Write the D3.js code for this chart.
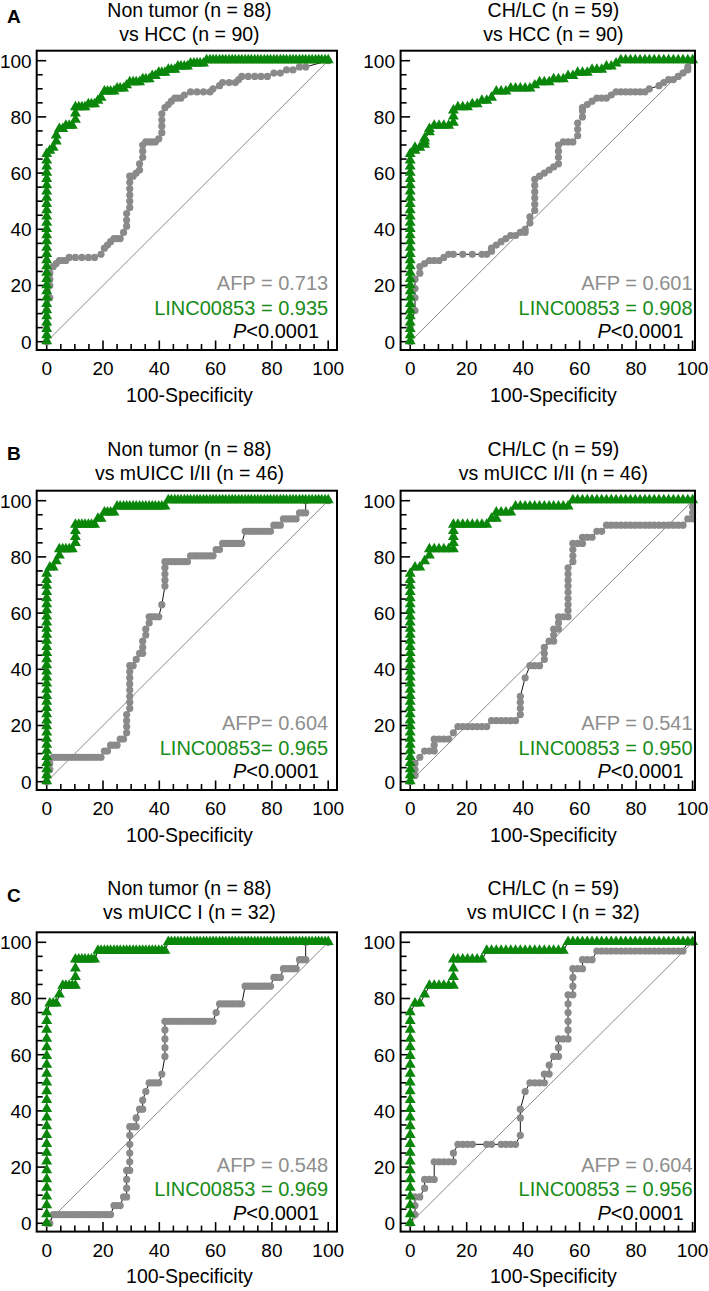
<!DOCTYPE html>
<html><head><meta charset="utf-8">
<script src="https://cdn.jsdelivr.net/npm/d3@7"></script>
<style>body{margin:0;background:#fff}svg{display:block}text{font-family:"Liberation Sans",Arial,Helvetica,sans-serif}</style>
</head><body><svg id="c" width="709" height="1291"></svg>
<script>
// ---------- DATA ----------
const panelLetters = ["A", "B", "C"];
const titleLine1 = [["Non tumor (n = 88)", "CH/LC (n = 59)"], ["Non tumor (n = 88)", "CH/LC (n = 59)"], ["Non tumor (n = 88)", "CH/LC (n = 59)"]];
const titleLine2 = [["vs HCC (n = 90)", "vs HCC (n = 90)"], ["vs mUICC I/II (n = 46)", "vs mUICC I/II (n = 46)"], ["vs mUICC I (n = 32)", "vs mUICC I (n = 32)"]];
const afpLabels = [["AFP = 0.713", "AFP = 0.601"], ["AFP= 0.604", "AFP = 0.541"], ["AFP = 0.548", "AFP = 0.604"]];
const lincLabels = [["LINC00853 = 0.935", "LINC00853 = 0.908"], ["LINC00853= 0.965", "LINC00853 = 0.950"], ["LINC00853 = 0.969", "LINC00853 = 0.956"]];
const pLabel = "<0.0001";
const xTickLabels = [0, 20, 40, 60, 80, 100];
const yTickLabels = [0, 20, 40, 60, 80, 100];
const xAxisTitle = "100-Specificity";

// ROC points [100-Specificity, Sensitivity]
const lincA1 = [[0,0],[0,2.2],[0,4.4],[0,6.7],[0,8.9],[0,11.1],[0,13.3],[0,15.6],[0,17.8],[0,20],[0,22.2],[0,24.4],[0,26.7],[0,28.9],[0,31.1],[0,33.3],[0,35.6],[0,37.8],[0,40],[0,42.2],[0,44.4],[0,46.7],[0,48.9],[0,51.1],[0,53.3],[0,55.6],[0,57.8],[0,60],[0,62.2],[0,64.4],[0,66.7],
[1.1,67.8],[2.3,68.9],[3.4,71.1],[3.4,73.3],[4.5,75.6],[5.7,75.6],[6.8,76.7],[8,76.7],[9.1,76.7],[10.2,78.9],[10.2,81.1],[10.2,83.3],[11.4,83.3],[12.5,83.3],[13.6,83.3],[14.8,84.4],[15.9,84.4],[17,84.4],[18.2,85.6],[19.3,86.7],[20.5,88.9],[21.6,88.9],[22.7,88.9],[23.9,88.9],[25,90],[26.1,90],[27.3,90],[28.4,91.1],[29.5,92.2],[30.7,92.2],[31.8,92.2],[33,92.2],[34.1,93.3],[35.2,93.3],[36.4,93.3],[37.5,94.4],[38.6,94.4],[39.8,95.6],[40.9,95.6],[42,95.6],[43.2,96.7],[44.3,96.7],[45.5,96.7],[46.6,97.8],[47.7,97.8],[48.9,97.8],[50,97.8],[51.1,98.9],[52.3,98.9],[53.4,98.9],[54.5,98.9],[55.7,98.9],
[56.8,100],[58,100],[59.1,100],[60.2,100],[61.4,100],[62.5,100],[63.6,100],[64.8,100],[65.9,100],[67,100],[68.2,100],[69.3,100],[70.5,100],[71.6,100],[72.7,100],[73.9,100],[75,100],[76.1,100],[77.3,100],[78.4,100],[79.5,100],[80.7,100],[81.8,100],[83,100],[84.1,100],[85.2,100],[86.4,100],[87.5,100],[88.6,100],[89.8,100],[90.9,100],[92,100],[93.2,100],[94.3,100],[95.5,100],[96.6,100],[97.7,100],[98.9,100],[100,100]];
const afpA1 = [[0,0],[0,5.6],[0,11.1],[1.1,15.6],[1.1,20],[1.1,22.2],[1.1,24.4],[2.3,26.7],[3.4,27.8],[4.5,28.9],[5.7,28.9],[6.8,28.9],[8,30],[10.2,30],[12.5,30],[14.8,30],[17,30],[19.3,31.1],[20.5,33.3],[21.6,34.4],[22.7,35.6],[23.9,36.7],[25,36.7],[26.1,36.7],[27.3,38.9],[28.4,41.1],[28.4,43.3],[28.4,45.6],[29.5,47.8],[29.5,50],[29.5,52.2],[29.5,54.4],[29.5,56.7],[29.5,58.9],[30.7,58.9],[31.8,60],[33,61.1],[33,63.3],[34.1,65.6],[34.1,67.8],[34.1,70],[35.2,71.1],[36.4,71.1],[37.5,71.1],[38.6,71.1],[39.8,72.2],[40.9,74.4],[40.9,76.7],[40.9,78.9],[40.9,81.1],[42,83.3],[43.2,84.4],[44.3,85.6],[45.5,86.7],[46.6,86.7],[47.7,86.7],[48.9,87.8],[51.1,88.9],[53.4,88.9],[55.7,88.9],[58,88.9],[59.1,90],[61.4,91.1],[62.5,92.2],[64.8,92.2],[67,92.2],[68.2,93.3],[69.3,94.4],[71.6,94.4],[73.9,94.4],[76.1,94.4],[78.4,94.4],[80.7,95.6],[83,95.6],[85.2,96.7],[87.5,96.7],[89.8,97.8],[92,97.8],[100,100]];

const lincA2 = [[0,0],[0,2.2],[0,4.4],[0,6.7],[0,8.9],[0,11.1],[0,13.3],[0,15.6],[0,17.8],[0,20],[0,22.2],[0,24.4],[0,26.7],[0,28.9],[0,31.1],[0,33.3],[0,35.6],[0,37.8],[0,40],[0,42.2],[0,44.4],[0,46.7],[0,48.9],[0,51.1],[0,53.3],[0,55.6],[0,57.8],[0,60],[0,62.2],[0,64.4],[0,66.7],
[1.7,67.8],[1.7,68.9],[3.4,68.9],[5.1,70],[5.1,71.1],[5.1,72.2],[6.8,74.4],[6.8,75.6],[8.5,76.7],[10.2,76.7],[11.9,76.7],[13.6,76.7],[15.3,77.8],[15.3,80],[15.3,82.2],[16.9,83.3],[18.6,83.3],[20.3,83.3],[22,84.4],[23.7,84.4],[25.4,85.6],[27.1,85.6],[28.8,86.7],[30.5,88.9],[32.2,88.9],[33.9,88.9],[35.6,90],[37.3,90],[39,90],[40.7,90],[42.4,90],[44.1,91.1],[45.8,92.2],[47.5,92.2],[49.2,92.2],[50.8,93.3],[52.5,93.3],[54.2,93.3],[55.9,94.4],[57.6,94.4],[59.3,95.6],[61,95.6],[62.7,95.6],[64.4,96.7],[66.1,96.7],[67.8,96.7],[69.5,97.8],[71.2,97.8],[72.9,98.9],
[74.6,100],[76.3,100],[78,100],[79.7,100],[81.4,100],[83.1,100],[84.7,100],[86.4,100],[88.1,100],[89.8,100],[91.5,100],[93.2,100],[94.9,100],[96.6,100],[98.3,100],[100,100]];
const afpA2 = [[0,0],[0,5.6],[1.7,11.1],[1.7,15.6],[1.7,18.9],[1.7,22.2],[3.4,24.4],[3.4,26.7],[5.1,27.8],[6.8,28.9],[8.5,28.9],[10.2,28.9],[11.9,30],[13.6,31.1],[15.3,31.1],[18.6,31.1],[22,31.1],[25.4,31.1],[27.1,31.1],[28.8,32.2],[28.8,33.3],[30.5,34.4],[32.2,35.6],[33.9,36.7],[35.6,37.8],[37.3,37.8],[39,38.9],[40.7,38.9],[40.7,40],[42.4,42.2],[42.4,44.4],[44.1,46.7],[44.1,48.9],[44.1,51.1],[44.1,53.3],[44.1,55.6],[44.1,57.8],[45.8,58.9],[47.5,60],[49.2,61.1],[50.8,62.2],[52.5,63.3],[52.5,65.6],[52.5,67.8],[52.5,70],[54.2,71.1],[55.9,71.1],[57.6,71.1],[59.3,73.3],[59.3,75.6],[59.3,77.8],[61,80],[61,82.2],[61,83.3],[62.7,84.4],[64.4,85.6],[66.1,86.7],[67.8,86.7],[69.5,86.7],[71.2,87.8],[72.9,88.9],[74.6,88.9],[76.3,88.9],[78,88.9],[79.7,88.9],[81.4,88.9],[83.1,88.9],[84.7,90],[88.1,91.1],[89.8,92.2],[91.5,93.3],[93.2,93.3],[94.9,94.4],[96.6,95.6],[98.3,96.7],[98.3,97.8],[100,100]];

const lincB1 = [[0,0],[0,2.2],[0,4.3],[0,6.5],[0,8.7],[0,10.9],[0,13],[0,15.2],[0,17.4],[0,19.6],[0,21.7],[0,23.9],[0,26.1],[0,28.3],[0,30.4],[0,32.6],[0,34.8],[0,37],[0,39.1],[0,41.3],[0,43.5],[0,45.7],[0,47.8],[0,50],[0,52.2],[0,54.3],[0,56.5],[0,58.7],[0,60.9],[0,63],[0,65.2],[0,67.4],[0,69.6],[0,71.7],[0,73.9],
[1.1,76.1],[2.3,76.1],[3.4,78.3],[4.5,80.4],[4.5,82.6],[5.7,82.6],[6.8,82.6],[8,82.6],[9.1,82.6],[10.2,84.8],[10.2,87],[10.2,89.1],[10.2,91.3],[11.4,91.3],[12.5,91.3],[13.6,91.3],[14.8,91.3],[15.9,91.3],[17,91.3],[18.2,93.5],[19.3,93.5],[20.5,95.7],[21.6,95.7],[22.7,95.7],[23.9,95.7],[25,97.8],[26.1,97.8],[27.3,97.8],[28.4,97.8],[29.5,97.8],[30.7,97.8],[31.8,97.8],[33,97.8],[34.1,97.8],[35.2,97.8],[36.4,97.8],[37.5,97.8],[38.6,97.8],[39.8,97.8],[40.9,97.8],[42,97.8],
[43.2,100],[44.3,100],[45.5,100],[46.6,100],[47.7,100],[48.9,100],[50,100],[51.1,100],[52.3,100],[53.4,100],[54.5,100],[55.7,100],[56.8,100],[58,100],[59.1,100],[60.2,100],[61.4,100],[62.5,100],[63.6,100],[64.8,100],[65.9,100],[67,100],[68.2,100],[69.3,100],[70.5,100],[71.6,100],[72.7,100],[73.9,100],[75,100],[76.1,100],[77.3,100],[78.4,100],[79.5,100],[80.7,100],[81.8,100],[83,100],[84.1,100],[85.2,100],[86.4,100],[87.5,100],[88.6,100],[89.8,100],[90.9,100],[92,100],[93.2,100],[94.3,100],[95.5,100],[96.6,100],[97.7,100],[98.9,100],[100,100]];
const afpB1 = [[0,0],[0,2.2],[1.1,4.3],[1.1,6.5],[2.3,8.7],[3.4,8.7],[4.5,8.7],[5.7,8.7],[6.8,8.7],[8,8.7],[9.1,8.7],[10.2,8.7],[11.4,8.7],[12.5,8.7],[13.6,8.7],[14.8,8.7],[15.9,8.7],[17,8.7],[18.2,8.7],[19.3,8.7],[20.5,10.9],[21.6,10.9],[22.7,13],[23.9,13],[25,13],[26.1,15.2],[27.3,15.2],[28.4,17.4],[28.4,19.6],[28.4,21.7],[28.4,23.9],[29.5,26.1],[29.5,28.3],[29.5,30.4],[29.5,32.6],[29.5,34.8],[29.5,37],[29.5,39.1],[29.5,41.3],[30.7,41.3],[31.8,43.5],[33,45.7],[34.1,45.7],[34.1,47.8],[34.1,50],[35.2,52.2],[35.2,54.3],[36.4,56.5],[36.4,58.7],[37.5,58.7],[38.6,58.7],[39.8,58.7],[40.9,63],[42,69.6],[42,71.7],[42,73.9],[42,76.1],[42,78.3],[43.2,78.3],[44.3,78.3],[45.5,78.3],[46.6,78.3],[47.7,78.3],[48.9,78.3],[50,78.3],[51.1,80.4],[52.3,80.4],[53.4,80.4],[54.5,80.4],[55.7,80.4],[56.8,80.4],[58,80.4],[59.1,80.4],[60.2,82.6],[61.4,82.6],[62.5,84.8],[63.6,84.8],[64.8,84.8],[65.9,84.8],[67,84.8],[68.2,84.8],[69.3,84.8],[70.5,89.1],[71.6,89.1],[72.7,89.1],[73.9,89.1],[75,89.1],[76.1,89.1],[77.3,89.1],[78.4,89.1],[79.5,89.1],[80.7,91.3],[81.8,91.3],[83,91.3],[84.1,93.5],[85.2,93.5],[86.4,93.5],[87.5,93.5],[88.6,93.5],[89.8,95.7],[90.9,95.7],[92,95.7],[92,100],[100,100]];

const lincB2 = [[0,0],[0,2.2],[0,4.3],[0,6.5],[0,8.7],[0,10.9],[0,13],[0,15.2],[0,17.4],[0,19.6],[0,21.7],[0,23.9],[0,26.1],[0,28.3],[0,30.4],[0,32.6],[0,34.8],[0,37],[0,39.1],[0,41.3],[0,43.5],[0,45.7],[0,47.8],[0,50],[0,52.2],[0,54.3],[0,56.5],[0,58.7],[0,60.9],[0,63],[0,65.2],[0,67.4],[0,69.6],[0,71.7],[0,73.9],
[1.7,76.1],[3.4,76.1],[5.1,78.3],[6.8,80.4],[6.8,82.6],[8.5,82.6],[10.2,82.6],[11.9,82.6],[13.6,82.6],[15.3,82.6],[15.3,84.8],[15.3,87],[15.3,89.1],[15.3,91.3],[16.9,91.3],[18.6,91.3],[20.3,91.3],[22,91.3],[23.7,91.3],[25.4,91.3],[27.1,91.3],[28.8,93.5],[30.5,93.5],[30.5,95.7],[32.2,95.7],[33.9,95.7],[35.6,95.7],[37.3,97.8],[39,97.8],[40.7,97.8],[42.4,97.8],[44.1,97.8],[45.8,97.8],[47.5,97.8],[49.2,97.8],[50.8,97.8],[52.5,97.8],[54.2,97.8],[55.9,97.8],
[57.6,100],[59.3,100],[61,100],[62.7,100],[64.4,100],[66.1,100],[67.8,100],[69.5,100],[71.2,100],[72.9,100],[74.6,100],[76.3,100],[78,100],[79.7,100],[81.4,100],[83.1,100],[84.7,100],[86.4,100],[88.1,100],[89.8,100],[91.5,100],[93.2,100],[94.9,100],[96.6,100],[98.3,100],[100,100]];
const afpB2 = [[0,0],[1.7,2.2],[1.7,4.3],[1.7,6.5],[3.4,8.7],[5.1,10.9],[6.8,10.9],[8.5,10.9],[8.5,13],[8.5,15.2],[10.2,15.2],[11.9,15.2],[13.6,15.2],[15.3,17.4],[16.9,19.6],[18.6,19.6],[20.3,19.6],[22,19.6],[23.7,19.6],[25.4,19.6],[27.1,19.6],[28.8,21.7],[30.5,21.7],[32.2,21.7],[33.9,21.7],[35.6,21.7],[37.3,21.7],[39,23.9],[39,26.1],[39,28.3],[39,30.4],[40.7,37],[42.4,41.3],[44.1,41.3],[45.8,41.3],[47.5,43.5],[47.5,45.7],[47.5,47.8],[49.2,50],[50.8,50],[50.8,52.2],[50.8,54.3],[52.5,54.3],[52.5,56.5],[52.5,58.7],[54.2,58.7],[55.9,58.7],[55.9,60.9],[55.9,63],[55.9,65.2],[55.9,67.4],[55.9,69.6],[55.9,71.7],[55.9,73.9],[55.9,76.1],[57.6,78.3],[57.6,80.4],[57.6,82.6],[57.6,84.8],[59.3,84.8],[61,84.8],[61,87],[62.7,87],[64.4,87],[66.1,89.1],[67.8,89.1],[69.5,91.3],[71.2,91.3],[72.9,91.3],[74.6,91.3],[76.3,91.3],[78,91.3],[79.7,91.3],[81.4,91.3],[83.1,91.3],[84.7,91.3],[86.4,91.3],[88.1,91.3],[89.8,91.3],[91.5,91.3],[93.2,91.3],[94.9,91.3],[96.6,91.3],[98.3,93.5],[100,93.5],[100,95.7],[100,97.8],[100,100]];

const lincC1 = [[0,0],[0,3.1],[0,6.3],[0,9.4],[0,12.5],[0,15.6],[0,18.8],[0,21.9],[0,25],[0,28.1],[0,31.3],[0,34.4],[0,37.5],[0,40.6],[0,43.8],[0,46.9],[0,50],[0,53.1],[0,56.3],[0,59.4],[0,62.5],[0,65.6],[0,68.8],[0,71.9],[0,75],
[1.1,78.1],[2.3,78.1],[3.4,78.1],[4.5,81.3],[5.7,84.4],[6.8,84.4],[8,84.4],[9.1,84.4],[10.2,84.4],[10.2,87.5],[10.2,90.6],[10.2,93.8],[11.4,93.8],[12.5,93.8],[13.6,93.8],[14.8,93.8],[15.9,93.8],[17,93.8],[18.2,96.9],[19.3,96.9],[20.5,96.9],[21.6,96.9],[22.7,96.9],[23.9,96.9],[25,96.9],[26.1,96.9],[27.3,96.9],[28.4,96.9],[29.5,96.9],[30.7,96.9],[31.8,96.9],[33,96.9],[34.1,96.9],[35.2,96.9],[36.4,96.9],[37.5,96.9],[38.6,96.9],[39.8,96.9],[40.9,96.9],[42,96.9],
[43.2,100],[44.3,100],[45.5,100],[46.6,100],[47.7,100],[48.9,100],[50,100],[51.1,100],[52.3,100],[53.4,100],[54.5,100],[55.7,100],[56.8,100],[58,100],[59.1,100],[60.2,100],[61.4,100],[62.5,100],[63.6,100],[64.8,100],[65.9,100],[67,100],[68.2,100],[69.3,100],[70.5,100],[71.6,100],[72.7,100],[73.9,100],[75,100],[76.1,100],[77.3,100],[78.4,100],[79.5,100],[80.7,100],[81.8,100],[83,100],[84.1,100],[85.2,100],[86.4,100],[87.5,100],[88.6,100],[89.8,100],[90.9,100],[92,100],[93.2,100],[94.3,100],[95.5,100],[96.6,100],[97.7,100],[98.9,100],[100,100]];
const afpC1 = [[0,0],[1.1,0],[2.3,3.1],[3.4,3.1],[4.5,3.1],[5.7,3.1],[6.8,3.1],[8,3.1],[9.1,3.1],[10.2,3.1],[11.4,3.1],[12.5,3.1],[13.6,3.1],[14.8,3.1],[15.9,3.1],[17,3.1],[18.2,3.1],[19.3,3.1],[20.5,3.1],[21.6,3.1],[22.7,3.1],[23.9,6.3],[25,6.3],[26.1,6.3],[27.3,9.4],[28.4,9.4],[28.4,12.5],[28.4,15.6],[28.4,18.8],[29.5,18.8],[29.5,21.9],[29.5,25],[29.5,28.1],[29.5,31.3],[29.5,34.4],[30.7,34.4],[31.8,34.4],[31.8,37.5],[33,40.6],[34.1,40.6],[34.1,43.8],[35.2,46.9],[36.4,50],[37.5,50],[38.6,50],[39.8,50],[40.9,53.1],[42,59.4],[42,62.5],[42,65.6],[42,68.8],[42,71.9],[43.2,71.9],[44.3,71.9],[45.5,71.9],[46.6,71.9],[47.7,71.9],[48.9,71.9],[50,71.9],[51.1,71.9],[52.3,71.9],[53.4,71.9],[54.5,71.9],[55.7,71.9],[56.8,71.9],[58,71.9],[59.1,71.9],[60.2,75],[61.4,78.1],[62.5,78.1],[63.6,78.1],[64.8,78.1],[65.9,78.1],[67,78.1],[68.2,78.1],[69.3,78.1],[70.5,84.4],[71.6,84.4],[72.7,84.4],[73.9,84.4],[75,84.4],[76.1,84.4],[77.3,84.4],[78.4,84.4],[79.5,84.4],[80.7,87.5],[81.8,87.5],[83,87.5],[84.1,90.6],[85.2,90.6],[86.4,90.6],[87.5,90.6],[88.6,90.6],[89.8,93.8],[90.9,93.8],[92,93.8],[92,100],[100,100]];

const lincC2 = [[0,0],[0,3.1],[0,6.3],[0,9.4],[0,12.5],[0,15.6],[0,18.8],[0,21.9],[0,25],[0,28.1],[0,31.3],[0,34.4],[0,37.5],[0,40.6],[0,43.8],[0,46.9],[0,50],[0,53.1],[0,56.3],[0,59.4],[0,62.5],[0,65.6],[0,68.8],[0,71.9],[0,75],
[1.7,78.1],[3.4,78.1],[5.1,81.3],[6.8,84.4],[8.5,84.4],[10.2,84.4],[11.9,84.4],[13.6,84.4],[15.3,84.4],[15.3,87.5],[15.3,90.6],[15.3,93.8],[16.9,93.8],[18.6,93.8],[20.3,93.8],[22,93.8],[23.7,93.8],[25.4,93.8],[27.1,96.9],[28.8,96.9],[30.5,96.9],[32.2,96.9],[33.9,96.9],[35.6,96.9],[37.3,96.9],[39,96.9],[40.7,96.9],[42.4,96.9],[44.1,96.9],[45.8,96.9],[47.5,96.9],[49.2,96.9],[50.8,96.9],[52.5,96.9],[54.2,96.9],
[55.9,100],[57.6,100],[59.3,100],[61,100],[62.7,100],[64.4,100],[66.1,100],[67.8,100],[69.5,100],[71.2,100],[72.9,100],[74.6,100],[76.3,100],[78,100],[79.7,100],[81.4,100],[83.1,100],[84.7,100],[86.4,100],[88.1,100],[89.8,100],[91.5,100],[93.2,100],[94.9,100],[96.6,100],[98.3,100],[100,100]];
const afpC2 = [[0,0],[1.7,3.1],[1.7,6.3],[1.7,9.4],[3.4,9.4],[5.1,12.5],[5.1,15.6],[6.8,15.6],[8.5,15.6],[8.5,21.9],[10.2,21.9],[11.9,21.9],[13.6,21.9],[15.3,21.9],[15.3,25],[16.9,28.1],[18.6,28.1],[20.3,28.1],[22,28.1],[27.1,28.1],[28.8,28.1],[32.2,28.1],[33.9,28.1],[35.6,28.1],[37.3,28.1],[39,31.3],[39,37.5],[39,40.6],[40.7,46.9],[42.4,50],[44.1,50],[45.8,50],[47.5,50],[47.5,53.1],[49.2,53.1],[49.2,56.3],[50.8,59.4],[52.5,59.4],[52.5,62.5],[52.5,65.6],[54.2,65.6],[55.9,65.6],[55.9,68.8],[55.9,71.9],[55.9,75],[55.9,78.1],[55.9,81.3],[57.6,81.3],[57.6,84.4],[57.6,87.5],[57.6,90.6],[59.3,90.6],[61,90.6],[61,93.8],[62.7,93.8],[64.4,93.8],[66.1,96.9],[67.8,96.9],[69.5,96.9],[71.2,96.9],[72.9,96.9],[74.6,96.9],[76.3,96.9],[78,96.9],[79.7,96.9],[81.4,96.9],[83.1,96.9],[84.7,96.9],[86.4,96.9],[88.1,96.9],[89.8,96.9],[91.5,96.9],[93.2,96.9],[94.9,96.9],[96.6,96.9],[98.3,100],[100,100]];

const afpSeries = [[afpA1, afpA2], [afpB1, afpB2], [afpC1, afpC2]];
const lincSeries = [[lincA1, lincA2], [lincB1, lincB2], [lincC1, lincC2]];

// ---------- LAYOUT ----------
const GREEN = "#0a870a", GREEN_TXT = "#178c17", GREY = "#8a8a8a", GREY_TXT = "#8e8e8e";
const cols = [{x0: 46.7, x1: 328.2, fl: 36.7, fr: 337, ylabX: 31.6},
              {x0: 410.2, x1: 692.6, fl: 400.6, fr: 695, ylabX: 395}];
const rows = [{y0: 341.7, y1: 60.7, t1: -34, t2: -10, lb: 23},
              {y0: 781.7, y1: 500.7, t1: -34.5, t2: -10.5, lb: 460},
              {y0: 1223.3, y1: 942.3, t1: -37.3, t2: -13.5, lb: 902}];

const svg = d3.select("#c");
svg.append("rect").attr("width", 709).attr("height", 1291).attr("fill", "#fff");

const minor = d3.range(0, 101, 5);

rows.forEach((R, ri) => {
  svg.append("text").attr("x", 7).attr("y", R.lb).attr("font-size", 19).attr("font-weight", "bold").text(panelLetters[ri]);
  cols.forEach((C, ci) => {
    const x = d3.scaleLinear().domain([0, 100]).range([C.x0, C.x1]);
    const y = d3.scaleLinear().domain([0, 100]).range([R.y0, R.y1]);
    const g = svg.append("g");
    const ft = R.y1 - 10, fb = R.y0 + 8.3;
    const cx = (C.x0 + C.x1) / 2 + 2;

    g.append("text").attr("x", cx).attr("y", R.y1 - 10 + R.t1).attr("text-anchor", "middle").attr("font-size", 19.5).text(titleLine1[ri][ci]);
    g.append("text").attr("x", cx).attr("y", R.y1 - 10 + R.t2).attr("text-anchor", "middle").attr("font-size", 19.5).text(titleLine2[ri][ci]);

    g.append("line").attr("x1", x(0)).attr("y1", y(0)).attr("x2", x(100)).attr("y2", y(100))
      .attr("stroke", "#7a7a7a").attr("stroke-width", 0.9);

    minor.forEach(v => {
      const L = (v % 20 === 0) ? 9.5 : 6;
      g.append("line").attr("x1", x(v)).attr("x2", x(v)).attr("y1", fb).attr("y2", fb - L).attr("stroke", "#000").attr("stroke-width", 1.6);
      g.append("line").attr("y1", y(v)).attr("y2", y(v)).attr("x1", C.fl).attr("x2", C.fl + L).attr("stroke", "#000").attr("stroke-width", 1.6);
    });
    xTickLabels.forEach(v => {
      g.append("text").attr("x", x(v)).attr("y", fb + 25).attr("text-anchor", "middle").attr("font-size", 19).text(v);
    });
    yTickLabels.forEach(v => {
      g.append("text").attr("x", C.ylabX).attr("y", y(v) + 6.8).attr("text-anchor", "end").attr("font-size", 19).text(v);
    });
    g.append("text").attr("x", cx).attr("y", fb + 51.5).attr("text-anchor", "middle").attr("font-size", 19.5).text(xAxisTitle);

    const line = d3.line().x(d => x(d[0])).y(d => y(d[1]));
    const afp = afpSeries[ri][ci];
    g.append("path").attr("d", line(afp)).attr("fill", "none").attr("stroke", "#111").attr("stroke-width", 1);
    g.selectAll(null).data(afp).enter().append("circle")
      .attr("cx", d => x(d[0])).attr("cy", d => y(d[1])).attr("r", 3.6).attr("fill", GREY);
    const linc = lincSeries[ri][ci];
    g.append("path").attr("d", line(linc)).attr("fill", "none").attr("stroke", "#111").attr("stroke-width", 1);
    const tri = d3.symbol().type(d3.symbolTriangle).size(52);
    g.selectAll(null).data(linc).enter().append("path")
      .attr("d", tri).attr("transform", d => `translate(${x(d[0])},${y(d[1]) - 0.5})`).attr("fill", GREEN);

    g.append("rect").attr("x", C.fl).attr("y", ft).attr("width", C.fr - C.fl).attr("height", fb - ft)
      .attr("fill", "none").attr("stroke", "#000").attr("stroke-width", 2);

    const ax = x(100);
    g.append("text").attr("x", ax).attr("y", R.y0 - 51.7).attr("text-anchor", "end").attr("font-size", 20).attr("fill", GREY_TXT).text(afpLabels[ri][ci]);
    g.append("text").attr("x", ax).attr("y", R.y0 - 27).attr("text-anchor", "end").attr("font-size", 20).attr("fill", GREEN_TXT).text(lincLabels[ri][ci]);
    const pt = g.append("text").attr("x", ax - 9).attr("y", R.y0 - 3.6).attr("text-anchor", "end").attr("font-size", 20).attr("fill", "#000");
    pt.append("tspan").attr("font-style", "italic").text("P");
    pt.append("tspan").text(pLabel);
  });
});
</script>
</body></html>
